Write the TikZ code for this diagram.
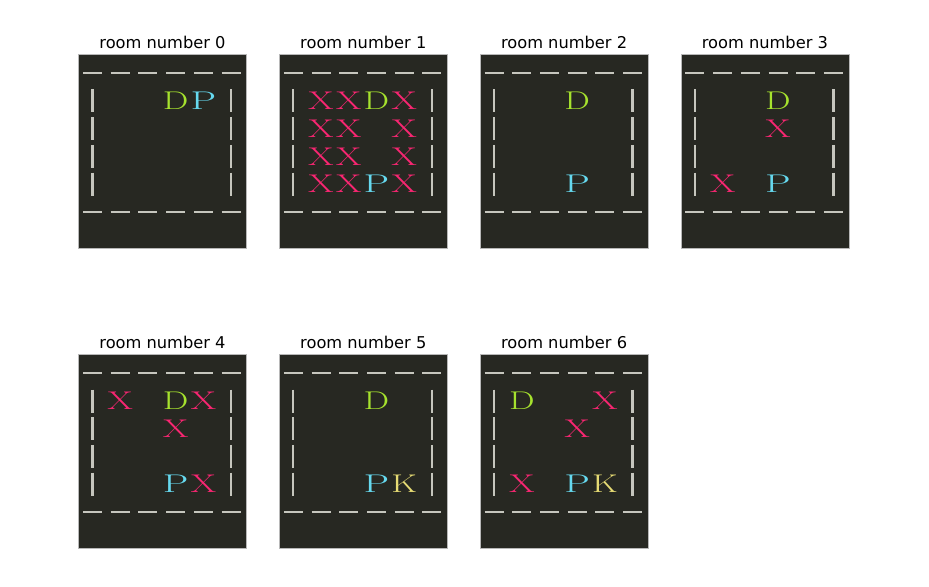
\documentclass[tikz,border=0pt]{standalone}
\usepackage{fontspec}
\newfontfamily\titlefont{DejaVu Sans}
\newfontfamily\glyphfont{Latin Modern Roman}
\definecolor{bg}{HTML}{272822}
\definecolor{paneledge}{HTML}{B8B8B8}
\definecolor{wallc}{HTML}{C6C6BE}
\definecolor{dcol}{HTML}{A6E22E}
\definecolor{pcol}{HTML}{66D9EF}
\definecolor{xcol}{HTML}{F92672}
\definecolor{kcol}{HTML}{E6DB74}
\tikzset{
  panelbox/.style={draw=paneledge, line width=0.5pt, fill=bg, anchor=north west,
    minimum width=120.96pt, minimum height=139.9pt, inner sep=0pt, outer sep=0pt},
  roomtitle/.style={anchor=base, inner sep=0pt, font=\titlefont\fontsize{11.7}{14}\selectfont},
  wall/.style={draw=wallc, line width=1.6pt},
  glyph/.style={inner sep=0pt, font=\glyphfont\fontsize{20}{24}\selectfont},
}
\newcommand\cellchar[1]{\resizebox{18.4pt}{12.6pt}{#1}}
\newcommand\drawroom[4]{%
  \node[panelbox] (room#1) at (#2,#3) {};
  \node[roomtitle] (title#1) at (#2+84,#3-5.8) {room number #1};
  \foreach \c in {0,...,5} {
    \draw[wall] (#2+14+\c*27.7-9.5,#3+19.3) -- ++(19,0);
    \draw[wall] (#2+14+\c*27.7-9.5,#3+157.8) -- ++(19,0);
  }
  \foreach \r in {1,...,4} {
    \draw[wall] (#2+14,#3+19.3+\r*27.7-11.5) -- ++(0,23);
    \draw[wall] (#2+14+5*27.7,#3+19.3+\r*27.7-11.5) -- ++(0,23);
  }
  \foreach \r/\c/\col/\ch in {#4} {
    \node[glyph, text=\col] (g#1-\r-\c) at (#2+14+\c*27.7,#3+19.3+\r*27.7) {\cellchar{\ch}};
  }
}
\begin{document}
\begin{tikzpicture}[x=0.72pt,y=-0.72pt]
\fill[white] (0,0) rectangle (929,587);
\useasboundingbox (0,0) rectangle (929,587);
\drawroom{0}{78.5}{54}{1/3/dcol/D, 1/4/pcol/P}
\drawroom{1}{279.3}{54}{1/1/xcol/X, 1/2/xcol/X, 1/3/dcol/D, 1/4/xcol/X,
  2/1/xcol/X, 2/2/xcol/X, 2/4/xcol/X,
  3/1/xcol/X, 3/2/xcol/X, 3/4/xcol/X,
  4/1/xcol/X, 4/2/xcol/X, 4/3/pcol/P, 4/4/xcol/X}
\drawroom{2}{480.1}{54}{1/3/dcol/D, 4/3/pcol/P}
\drawroom{3}{680.9}{54}{1/3/dcol/D, 2/3/xcol/X, 4/1/xcol/X, 4/3/pcol/P}
\drawroom{4}{78.5}{354}{1/1/xcol/X, 1/3/dcol/D, 1/4/xcol/X, 2/3/xcol/X, 4/3/pcol/P, 4/4/xcol/X}
\drawroom{5}{279.3}{354}{1/3/dcol/D, 4/3/pcol/P, 4/4/kcol/K}
\drawroom{6}{480.1}{354}{1/1/dcol/D, 1/4/xcol/X, 2/3/xcol/X, 4/1/xcol/X, 4/3/pcol/P, 4/4/kcol/K}
\end{tikzpicture}
\end{document}
